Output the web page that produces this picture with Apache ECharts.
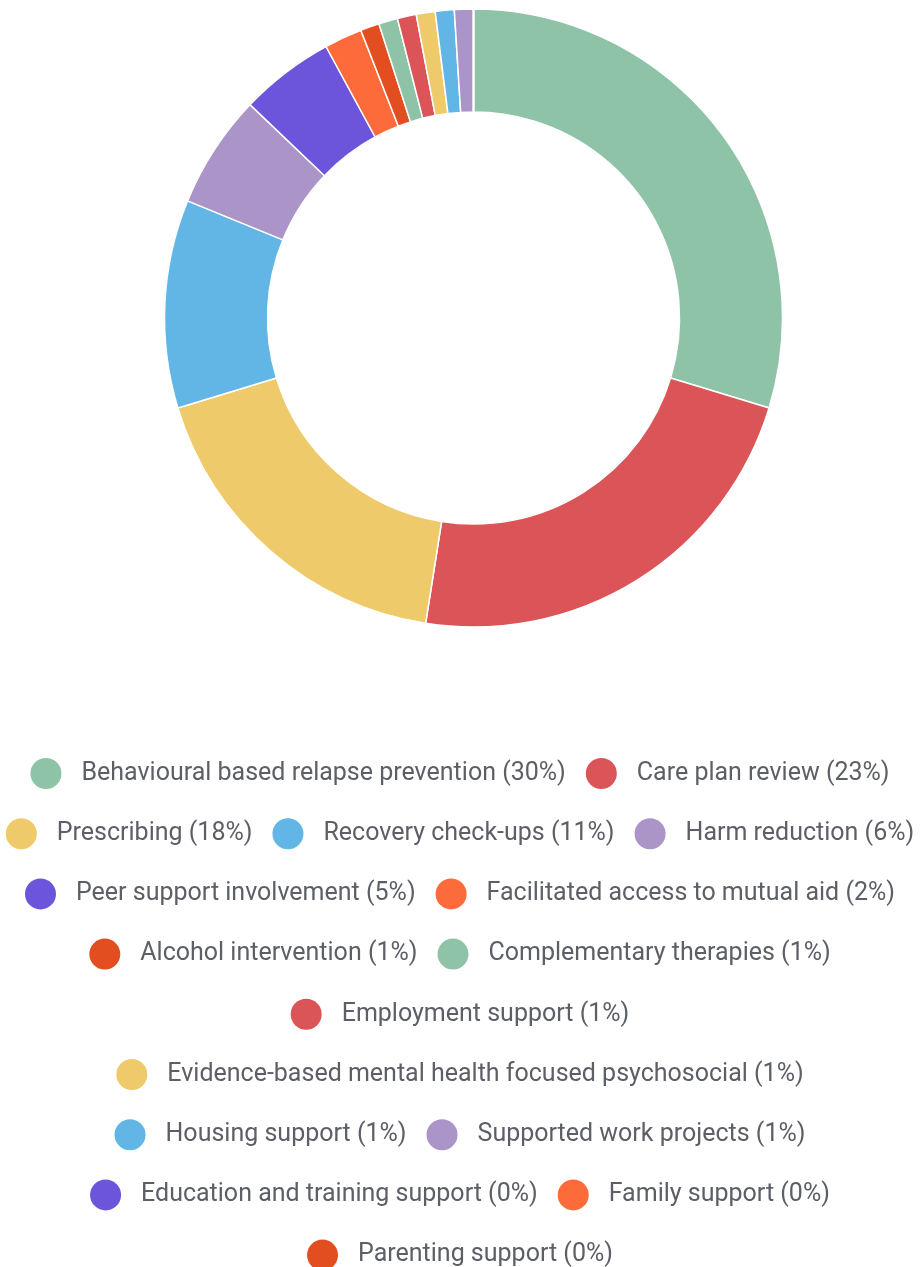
<!DOCTYPE html>
<html>
<head>
<meta charset="utf-8">
<script src="https://cdn.jsdelivr.net/npm/echarts@6/dist/echarts.min.js"></script>
<style>
  html, body { margin: 0; padding: 0; background: #fff; }
  #chart { width: 920px; height: 1267px; }
</style>
</head>
<body>
<div id="chart"></div>
<script>
// Share of interventions delivered (%), clockwise from 12 o'clock
const categories = [
  'Behavioural based relapse prevention',
  'Care plan review',
  'Prescribing',
  'Recovery check-ups',
  'Harm reduction',
  'Peer support involvement',
  'Facilitated access to mutual aid',
  'Alcohol intervention',
  'Complementary therapies',
  'Employment support',
  'Evidence-based mental health focused psychosocial',
  'Housing support',
  'Supported work projects',
  'Education and training support',
  'Family support',
  'Parenting support'
];
const shares = [30, 23, 18, 11, 6, 5, 2, 1, 1, 1, 1, 1, 1, 0, 0, 0];
const palette = ['#8fc3a7', '#db5457', '#efca6b', '#62b6e5', '#ab94c8', '#6d55db', '#fe6b3a', '#e34e21'];

// Legend lines, as category indices per line
const legendRows = [[0, 1], [2, 3, 4], [5, 6], [7, 8], [9], [10], [11, 12], [13, 14], [15]];

const shareOf = {};
categories.forEach((c, i) => { shareOf[c] = shares[i]; });

const legends = legendRows.map((row, r) => ({
  data: row.map(i => categories[i]),
  orient: 'horizontal',
  left: 'center',
  top: 753 + r * 60.2,
  icon: 'circle',
  itemWidth: 31,
  itemHeight: 31,
  itemGap: 20,
  selectedMode: false,
  itemStyle: { borderWidth: 0 },
  formatter: name => name + ' (' + shareOf[name] + '%)',
  textStyle: {
    fontFamily: 'Roboto',
    fontSize: 25,
    color: '#5c5f66',
    padding: [0, 0, 0, 15]
  }
}));

const chart = echarts.init(document.getElementById('chart'), null, { renderer: 'canvas' });
chart.setOption({
  animation: false,
  color: palette,
  legend: legends,
  series: [{
    type: 'pie',
    center: [473.5, 318],
    radius: [206, 309],
    startAngle: 90,
    clockwise: true,
    label: { show: false },
    labelLine: { show: false },
    emphasis: { disabled: true },
    itemStyle: { borderColor: '#ffffff', borderWidth: 1.5 },
    data: categories.map((c, i) => ({ name: c, value: shares[i] }))
  }]
});
</script>
</body>
</html>
